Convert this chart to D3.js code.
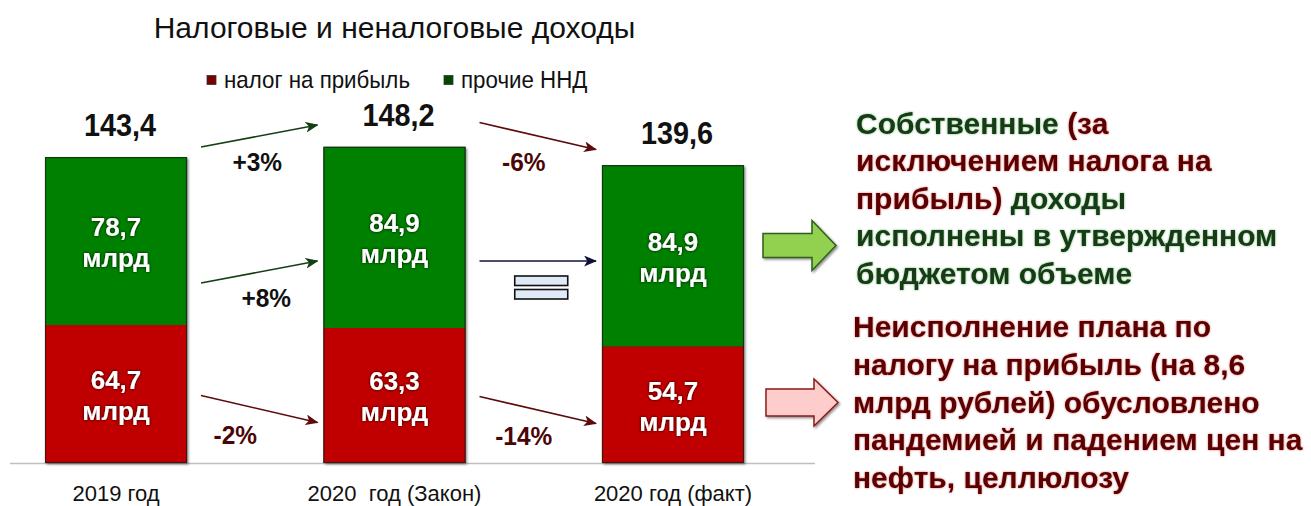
<!DOCTYPE html>
<html><head><meta charset="utf-8">
<script src="https://cdn.jsdelivr.net/npm/d3@7"></script>
<style>
body{margin:0;background:#fff}
svg{display:block}
text{font-family:"Liberation Sans",Arial,sans-serif}
</style>
</head><body>
<svg id="c" width="1311" height="506"></svg>
<script>
// ---------------- data ----------------
const categories = ["2019 год", "2020  год (Закон)", "2020 год (факт)"];
const profitTax = [64.7, 63.3, 54.7];      // налог на прибыль
const otherNND  = [78.7, 84.9, 84.9];      // прочие ННД
const totals    = [143.4, 148.2, 139.6];
const seriesNames = ["налог на прибыль", "прочие ННД"];
const unitLabel = "млрд";
const chartTitle = "Налоговые и неналоговые доходы";
const noteOwn = [
  [["Собственные ", "g"], ["(за", "r"]],
  [["исключением налога на", "r"]],
  [["прибыль)", "r"], [" доходы", "g"]],
  [["исполнены в утвержденном", "g"]],
  [["бюджетом объеме", "g"]]
];
const noteFail = [
  "Неисполнение плана по",
  "налогу на прибыль (на 8,6",
  "млрд рублей) обусловлено",
  "пандемией и падением цен на",
  "нефть, целлюлозу"
];

// ---------------- setup ----------------
const svg = d3.select("#c");
const defs = svg.append("defs");

function glow(id, color, sd, op){
  const f = defs.append("filter").attr("id", id).attr("x","-20%").attr("y","-40%").attr("width","140%").attr("height","180%");
  f.append("feGaussianBlur").attr("in","SourceAlpha").attr("stdDeviation", sd).attr("result","b");
  f.append("feFlood").attr("flood-color", color).attr("flood-opacity", op).attr("result","c");
  f.append("feComposite").attr("in","c").attr("in2","b").attr("operator","in").attr("result","s");
  const m = f.append("feMerge");
  m.append("feMergeNode").attr("in","s");
  m.append("feMergeNode").attr("in","SourceGraphic");
}
glow("darkGlow", "#000", 1.6, 0.9);
glow("greenGlow", "#1f7a1f", 1.0, 0.6);
glow("redGlow", "#b00000", 1.0, 0.55);
const sh = defs.append("filter").attr("id","barShadow").attr("x","-10%").attr("y","-10%").attr("width","125%").attr("height","125%");
sh.append("feDropShadow").attr("dx",1.5).attr("dy",1.5).attr("stdDeviation",1.2).attr("flood-color","#000").attr("flood-opacity",0.45);

function marker2(id, color){
  defs.append("marker").attr("id", id).attr("viewBox","0 0 12 10").attr("refX",11).attr("refY",5)
    .attr("markerWidth",13).attr("markerHeight",11).attr("markerUnits","userSpaceOnUse").attr("orient","auto")
    .append("path").attr("d","M0,0 L12,5 L0,10 L3,5 Z").attr("fill", color);
}
marker2("mUp", "#143f14");
marker2("mDown", "#5c0a0a");
marker2("mEq", "#10103a");

const fmt = v => d3.format(".1f")(v).replace(".", ",");

const y = d3.scaleLinear().domain([0, 150]).range([463, 143]);
const x = d3.scaleBand().domain(categories).range([45, 744]).paddingInner(0.49).paddingOuter(0);
const bw = x.bandwidth();

const rows = categories.map((c, i) => ({cat: c, tax: profitTax[i], other: otherNND[i], total: totals[i]}));
const stack = d3.stack().keys(["tax", "other"])(rows);
const colors = {tax: "#c00000", other: "#008000"};

// title
svg.append("text").attr("x", x(categories[1]) + bw/2).attr("y", 38)
  .attr("text-anchor","middle").attr("font-size", 30).attr("fill","#111")
  .text(chartTitle);

// legend
const leg = [{k:"tax", name: seriesNames[0], x: 207, fill:"#7a0000"}, {k:"other", name: seriesNames[1], x: 444, fill:"#004a00"}];
leg.forEach(l => {
  svg.append("rect").attr("x", l.x).attr("y", 75.5).attr("width", 9).attr("height", 9)
    .attr("fill", l.fill).attr("stroke", "#333").attr("stroke-width", 0.8);
  svg.append("text").attr("x", 0).attr("y", 0).attr("font-size", 24).attr("fill","#111")
    .attr("transform", `translate(${l.x + 17},88) scale(0.93,1)`).text(l.name);
});

// baseline
svg.append("line").attr("x1", 10).attr("x2", 815).attr("y1", y(0)+0.5).attr("y2", y(0)+0.5)
  .attr("stroke", "#bfbfbf").attr("stroke-width", 1.5);

// bar shadows
svg.append("g").selectAll("rect").data(rows).join("rect")
  .attr("x", d => x(d.cat)).attr("width", bw)
  .attr("y", d => y(d.total)).attr("height", d => y(0) - y(d.total))
  .attr("fill", "#333").attr("filter", "url(#barShadow)");

// stacked segments
const seg = svg.append("g").selectAll("g").data(stack).join("g").attr("fill", s => colors[s.key]);
seg.selectAll("rect").data(s => s.map(d => ({d, key: s.key}))).join("rect")
  .attr("x", p => x(p.d.data.cat)).attr("width", bw)
  .attr("y", p => y(p.d[1])).attr("height", p => y(p.d[0]) - y(p.d[1]));

// outline
svg.append("g").selectAll("rect").data(rows).join("rect")
  .attr("x", d => x(d.cat)+0.5).attr("width", bw-1)
  .attr("y", d => y(d.total)+0.5).attr("height", d => y(0) - y(d.total)-1)
  .attr("fill", "none").attr("stroke", "#1a1a1a").attr("stroke-opacity", 0.7).attr("stroke-width", 1.2);

// inner labels
stack.forEach(s => {
  s.forEach(d => {
    const cx = x(d.data.cat) + bw/2;
    const cy = (y(d[0]) + y(d[1])) / 2;
    const g = svg.append("g").attr("filter","url(#darkGlow)");
    g.append("text").attr("x", cx).attr("y", cy - 5).attr("text-anchor","middle")
      .attr("font-size", 26).attr("font-weight","bold").attr("fill","#fff").text(fmt(d[1]-d[0]));
    g.append("text").attr("x", cx).attr("y", cy + 26).attr("text-anchor","middle")
      .attr("font-size", 26).attr("font-weight","bold").attr("fill","#fff").text(unitLabel);
  });
});

// total labels
svg.append("g").selectAll("text").data(rows).join("text")
  .attr("x", 0).attr("y", 0).attr("text-anchor","middle").attr("font-size", 31).attr("font-weight","bold").attr("fill","#111")
  .attr("transform", d => `translate(${x(d.cat) + bw/2 + 4},${y(d.total) - 21}) scale(0.93,1)`)
  .text(d => fmt(d.total));

// category axis
const axis = svg.append("g").attr("transform", `translate(0,${y(0)})`)
  .call(d3.axisBottom(x).tickSize(0).tickPadding(22));
axis.select(".domain").remove();
axis.selectAll("text").attr("font-size", 22).attr("fill","#111")
  .style("font-family", '"Liberation Sans",Arial,sans-serif').style("white-space","pre");

// change arrows
const changeSets = [
  {vals: totals, rowY: [136, 136], lx: [-2, -14]},
  {vals: otherNND, rowY: [272, 261], lx: [7, 3]},
  {vals: profitTax, rowY: [409, 410], lx: [-24, -14]}
];
changeSets.forEach(cs => {
  for (let i = 0; i < cs.vals.length - 1; i++) {
    const pct = Math.round((cs.vals[i+1] / cs.vals[i] - 1) * 100);
    const x1 = x(categories[i]) + bw + 14, x2 = x(categories[i+1]) - 6;
    const mid = cs.rowY[i];
    const dy = pct > 0 ? -11 : pct < 0 ? 13.5 : 0;
    const col = pct > 0 ? "#143f14" : pct < 0 ? "#5c0a0a" : "#10103a";
    const mk = pct > 0 ? "mUp" : pct < 0 ? "mDown" : "mEq";
    svg.append("line").attr("x1", x1).attr("y1", mid - dy).attr("x2", x2).attr("y2", mid + dy)
      .attr("stroke", col).attr("stroke-width", 1.6).attr("marker-end", `url(#${mk})`);
    const cx = (x1 + x2) / 2 + cs.lx[i];
    if (pct === 0) {
      [0, 1].forEach(k => svg.append("rect").attr("x", cx - 26).attr("y", mid + 15 + k*13.5)
        .attr("width", 53).attr("height", 9.5).attr("fill", "#deebf7").attr("stroke", "#111").attr("stroke-width", 1.6));
    } else {
      svg.append("text").attr("x", 0).attr("y", 0).attr("text-anchor","middle")
        .attr("font-size", 26).attr("font-weight","bold").attr("fill", pct > 0 ? "#111" : "#4a0606")
        .attr("transform", `translate(${cx},${mid + 35}) scale(0.94,1)`)
        .text((pct > 0 ? "+" : "") + pct + "%");
    }
  }
});

// block arrows
function blockArrow(x0, xh, xt, cy, sh, hh, fill, stroke){
  const p = d3.path();
  p.moveTo(x0, cy - sh); p.lineTo(xh, cy - sh); p.lineTo(xh, cy - hh); p.lineTo(xt, cy);
  p.lineTo(xh, cy + hh); p.lineTo(xh, cy + sh); p.lineTo(x0, cy + sh); p.closePath();
  svg.append("path").attr("d", p.toString()).attr("fill", fill).attr("stroke", stroke).attr("stroke-width", 1.5)
    .attr("filter", "url(#barShadow)");
}
blockArrow(763, 812, 836, 245.5, 12, 25, "#92d050", "#2e5e1a");
blockArrow(766, 814, 838, 402.5, 13.5, 23.5, "#ffcccc", "#8b1a1a");

// right notes
const tc = {g: "#123a12", r: "#5a0606"};
noteOwn.forEach((line, i) => {
  const t = svg.append("text").attr("x", 856).attr("y", 133.5 + i * 37.5)
    .attr("font-size", 30).attr("font-weight","bold").style("white-space","pre");
  line.forEach(([s, c]) => t.append("tspan").attr("fill", tc[c])
    .attr("filter", c === "g" ? "url(#greenGlow)" : "url(#redGlow)").text(s));
});
noteFail.forEach((s, i) => {
  svg.append("text").attr("x", 853).attr("y", 337 + i * 37.8)
    .attr("font-size", 30).attr("font-weight","bold").attr("fill", tc.r)
    .attr("filter","url(#redGlow)").text(s);
});
</script>
</body></html>
